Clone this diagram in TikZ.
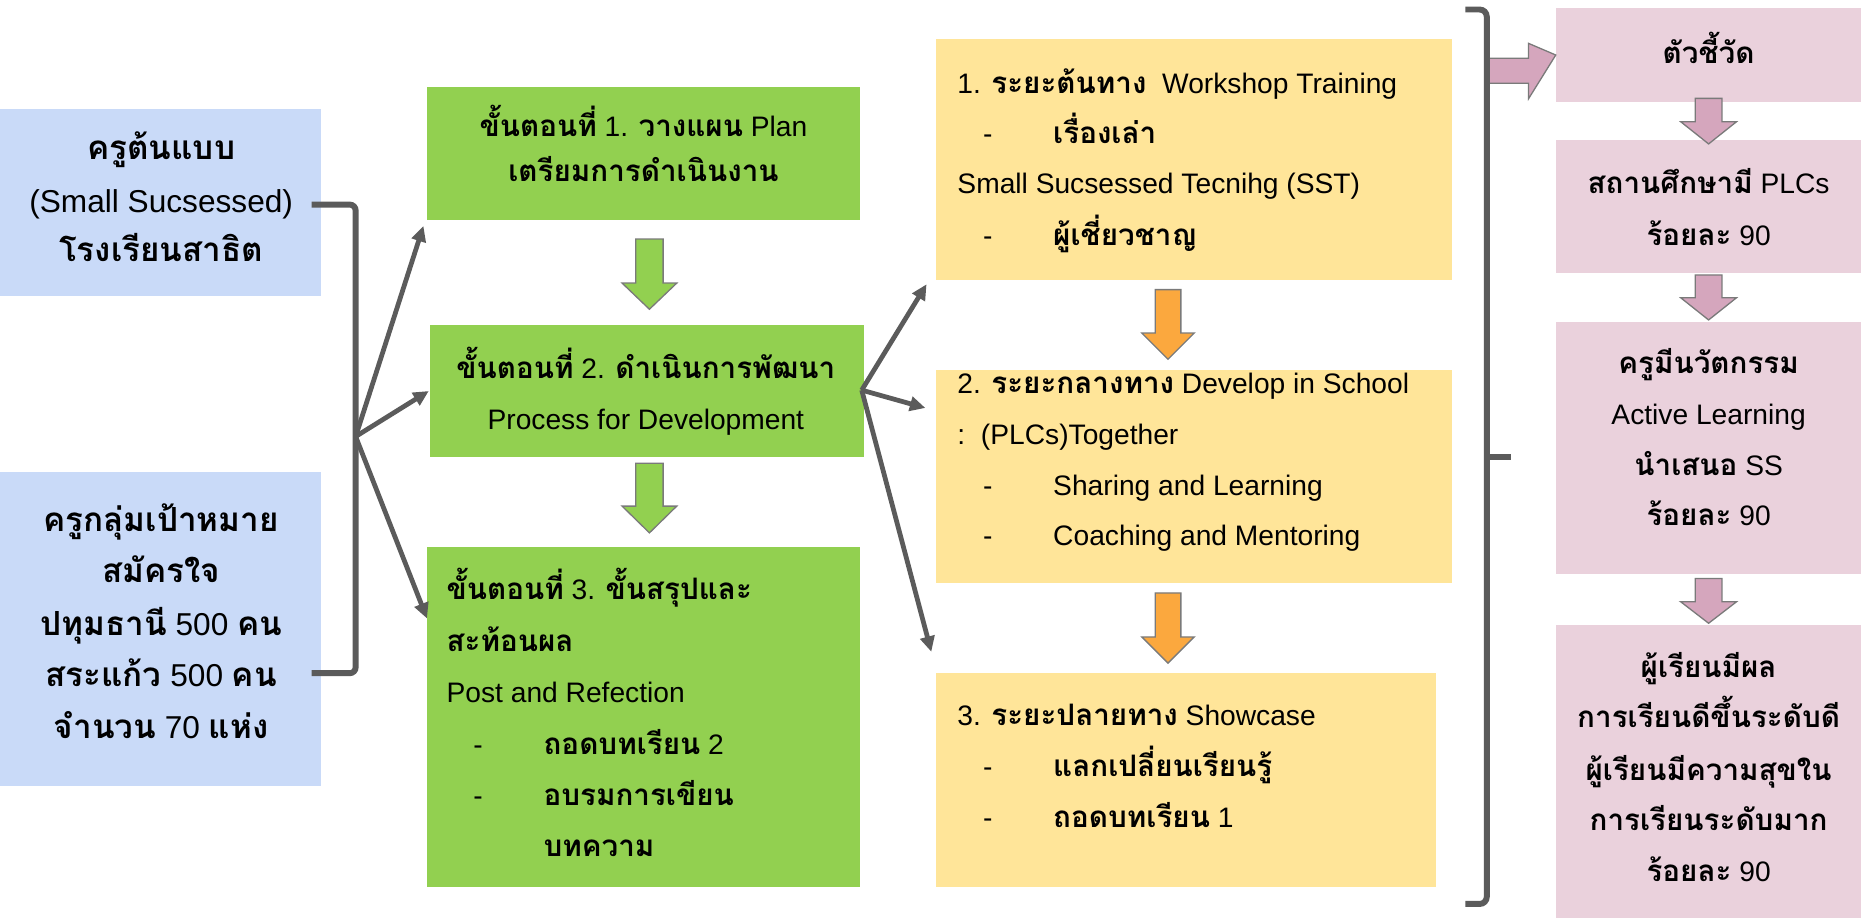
\documentclass[tikz,border=0pt]{standalone}
\usepackage{fontspec}
\setmainfont{Liberation Sans}
\newfontfamily\thaifont[Script=Thai,Scale=1.05]{Loma}
\usetikzlibrary{arrows.meta,fit}
\newcommand\T[1]{{\thaifont\bfseries #1}}
\definecolor{cblue}{HTML}{C9DAF8}
\definecolor{cgreen}{HTML}{92D050}
\definecolor{cyellow}{HTML}{FFE599}
\definecolor{corange}{HTML}{FBA83E}
\definecolor{cpink}{HTML}{EAD1DC}
\definecolor{cpinkdark}{HTML}{D5A6BD}
\definecolor{cline}{HTML}{5B5B5B}
\definecolor{coutline}{HTML}{7A7A7A}
\newcommand\darrow[8]{% x, ytop, yneck, ytip, shaft half, head half, fill
  \draw[barrow, fill=#7] (#1-#5,#2) -- (#1+#5,#2) -- (#1+#5,#3) -- (#1+#6,#3) -- (#1,#4)
    -- (#1-#6,#3) -- (#1-#5,#3) -- cycle;}
\begin{document}
\begin{tikzpicture}[x=1pt,y=-1pt,
  font=\fontsize{23.7}{28}\selectfont,
  box/.style={draw=none,inner sep=0pt,outer sep=0pt},
  tl/.style={inner sep=0pt,outer sep=0pt,anchor=base},
  bl/.style={tl,font=\fontsize{26.6}{31}\selectfont},
  tw/.style={inner sep=0pt,outer sep=0pt,anchor=base west},
  conn/.style={draw=cline,line width=4pt,-{Triangle[length=13pt,width=12pt]}},
  bracket/.style={draw=cline,line width=5pt},
  barrow/.style={draw=coutline,line width=1.1pt,line join=miter}]
\useasboundingbox (0,0) rectangle (1568,773);

% ---------- blue boxes ----------
\node[box,fill=cblue,fit={(0,92)(270,249)}] (b1) {};
\node[bl] (b1a) at (135.5,134) {\T{ครูต้นแบบ}};
\node[bl] (b1b) at (135.5,179) {(Small Sucsessed)};
\node[bl] (b1c) at (135.5,220) {\T{โรงเรียนสาธิต}};

\node[box,fill=cblue,fit={(0,397)(270,661)}] (b2) {};
\node[bl] (b2a) at (135.5,447) {\T{ครูกลุ่มเป้าหมาย}};
\node[bl] (b2b) at (135.5,490) {\T{สมัครใจ}};
\node[bl] (b2c) at (135.5,534) {\T{ปทุมธานี} 500 \T{คน}};
\node[bl] (b2d) at (135.5,577) {\T{สระแก้ว} 500 \T{คน}};
\node[bl] (b2e) at (135.5,621) {\T{จำนวน} 70 \T{แห่ง}};

% ---------- green boxes ----------
\node[box,fill=cgreen,fit={(359,73)(723,185)}] (g1) {};
\node[tl] (g1a) at (541,115) {\T{ขั้นตอนที่} 1. \T{วางแผน} Plan};
\node[tl] (g1b) at (541,153) {\T{เตรียมการดำเนินงาน}};

\node[box,fill=cgreen,fit={(361.5,273)(726,384.5)}] (g2) {};
\node[tl] (g2a) at (543,318) {\T{ขั้นตอนที่} 2. \T{ดำเนินการพัฒนา}};
\node[tl] (g2b) at (543,361) {Process for Development};

\node[box,fill=cgreen,fit={(359,460)(723,746)}] (g3) {};
\node[tw] (g3a) at (375.5,504) {\T{ขั้นตอนที่} 3. \T{ขั้นสรุปและ}};
\node[tw] (g3b) at (375.5,548) {\T{สะท้อนผล}};
\node[tw] (g3c) at (375.5,591) {Post and Refection};
\node[tw] (g3d) at (398,634) {-};
\node[tw] (g3e) at (457,634) {\T{ถอดบทเรียน} 2};
\node[tw] (g3f) at (398,677) {-};
\node[tw] (g3g) at (457,677) {\T{อบรมการเขียน}};
\node[tw] (g3h) at (457,720) {\T{บทความ}};

% ---------- yellow boxes ----------
\node[box,fill=cyellow,fit={(787,33)(1221,235)}] (y1) {};
\node[tw] (y1a) at (805,78.5) {1. \T{ระยะต้นทาง}\ \ Workshop Training};
\node[tw] (y1b) at (826.5,120.5) {-};
\node[tw] (y1c) at (885.5,120.5) {\T{เรื่องเล่า}};
\node[tw] (y1d) at (805,162.5) {Small Sucsessed Tecnihg (SST)};
\node[tw] (y1e) at (826.5,206) {-};
\node[tw] (y1f) at (885.5,206) {\T{ผู้เชี่ยวชาญ}};

\node[box,fill=cyellow,fit={(787,311)(1221,490)}] (y2) {};
\node[tw] (y2a) at (805,331) {2. \T{ระยะกลางทาง} Develop in School};
\node[tw] (y2b) at (805,374) {:\ \ (PLCs)Together};
\node[tw] (y2c) at (826.5,416.5) {-};
\node[tw] (y2d) at (885.5,416.5) {Sharing and Learning};
\node[tw] (y2e) at (826.5,459) {-};
\node[tw] (y2f) at (885.5,459) {Coaching and Mentoring};

\node[box,fill=cyellow,fit={(787,566)(1207,746)}] (y3) {};
\node[tw] (y3a) at (805,610) {3. \T{ระยะปลายทาง} Showcase};
\node[tw] (y3b) at (826.5,653) {-};
\node[tw] (y3c) at (885.5,653) {\T{แลกเปลี่ยนเรียนรู้}};
\node[tw] (y3d) at (826.5,696) {-};
\node[tw] (y3e) at (885.5,696) {\T{ถอดบทเรียน} 1};

% ---------- pink boxes ----------
\node[box,fill=cpink,fit={(1308,7)(1565,85.5)}] (p1) {};
\node[tl] (p1a) at (1436.5,53) {\T{ตัวชี้วัด}};

\node[box,fill=cpink,fit={(1308,117.7)(1565,229.3)}] (p2) {};
\node[tl] (p2a) at (1436.5,163) {\T{สถานศึกษามี} PLCs};
\node[tl] (p2b) at (1436.5,206) {\T{ร้อยละ} 90};

\node[box,fill=cpink,fit={(1308,270.4)(1565,483)}] (p3) {};
\node[tl] (p3a) at (1436.5,314) {\T{ครูมีนวัตกรรม}};
\node[tl] (p3b) at (1436.5,357) {Active Learning};
\node[tl] (p3c) at (1436.5,399.5) {\T{นำเสนอ} SS};
\node[tl] (p3d) at (1436.5,442) {\T{ร้อยละ} 90};

\node[box,fill=cpink,fit={(1308,525.5)(1565,772)}] (p4) {};
\node[tl] (p4a) at (1436.5,570) {\T{ผู้เรียนมีผล}};
\node[tl] (p4b) at (1436.5,612) {\T{การเรียนดีขึ้นระดับดี}};
\node[tl] (p4c) at (1436.5,656) {\T{ผู้เรียนมีความสุขใน}};
\node[tl] (p4d) at (1436.5,698) {\T{การเรียนระดับมาก}};
\node[tl] (p4e) at (1436.5,741) {\T{ร้อยละ} 90};

% ---------- block arrows ----------
\darrow{546}{201}{238}{260}{11.5}{23}{cgreen}{}
\darrow{546}{389.5}{425.5}{448}{11.5}{23}{cgreen}{}
\darrow{982}{243.5}{280}{302}{10.8}{22}{corange}{}
\darrow{982}{498.5}{535.5}{557.5}{10.8}{22}{corange}{}
\darrow{1436.5}{82.7}{102.3}{121}{11.2}{23.5}{cpinkdark}{}
\darrow{1436.5}{231.2}{250.3}{269}{11.2}{23.5}{cpinkdark}{}
\darrow{1436.5}{486.3}{505.9}{524}{11.2}{23.5}{cpinkdark}{}
\draw[barrow,fill=cpinkdark] (1250,49) -- (1285,49) -- (1285,36.4) -- (p1.west) -- (1285,83.2)
  -- (1285,70) -- (1250,70) -- cycle;

% ---------- left bracket and arrows ----------
\coordinate (lt) at (262,172);
\coordinate (lb) at (262,566);
\coordinate (lv) at (299,367);
\draw[bracket,rounded corners=5pt] (lt) -- (299,172) -- (299,566) -- (lb);
\draw[conn] (lv) -- ([xshift=-3pt,yshift=-5pt]g1.south west);
\draw[conn] (lv) -- ([xshift=-1pt]g2.west);
\draw[conn] (lv) -- ([yshift=-60pt]g3.north west);

% ---------- middle arrows ----------
\coordinate (mv) at (724.5,328);
\draw[conn] (mv) -- ([xshift=-8pt,yshift=-4pt]y1.south west);
\draw[conn] (mv) -- ([xshift=-9pt,yshift=-32pt]y2.north west);
\draw[conn] (mv) -- ([xshift=-4pt,yshift=18pt]y3.north west);

% ---------- right bracket ----------
\coordinate (rt) at (1232,8);
\coordinate (rb) at (1232,760);
\coordinate (rm) at (1270,384);
\draw[bracket,rounded corners=6pt] (rt) -- (1250,8) -- (1250,760) -- (rb);
\draw[bracket] (1250,384) -- (rm);
\end{tikzpicture}
\end{document}
